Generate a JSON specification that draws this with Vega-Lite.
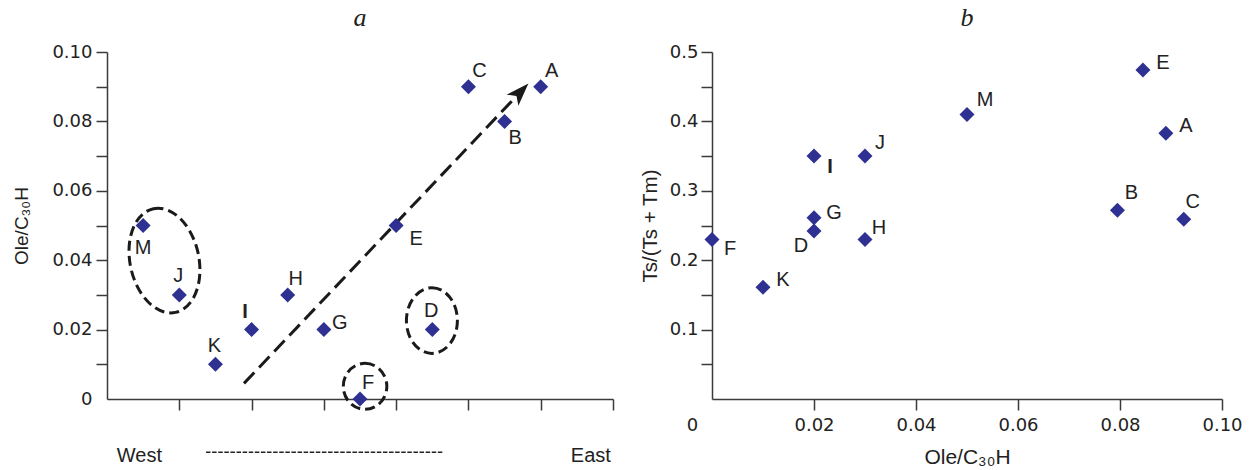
{
  "$schema": "https://vega.github.io/schema/vega-lite/v6.json",
  "padding": {"left": 12, "top": 5, "right": 5, "bottom": 0},
  "bounds": "flush",
  "spacing": 99,
  "config": {
    "view": {"stroke": null},
    "axis": {"domainColor": "#3a3a3a", "tickColor": "#3a3a3a", "domainWidth": 1.5, "tickWidth": 1.5, "tickSize": 11, "labelFont": "DejaVu Sans", "labelFontSize": 18, "labelColor": "#222222", "titleFont": "Liberation Sans", "titleFontWeight": "normal", "titleColor": "#222222", "grid": false, "labelFlush": false, "labelOverlap": false, "labelBound": false},
    "title": {"font": "Liberation Serif", "fontStyle": "italic", "fontWeight": "normal", "fontSize": 26, "color": "#222222", "offset": 12, "anchor": "middle"},
    "text": {"font": "Liberation Sans", "fontSize": 20, "color": "#222222"}
  },
  "datasets": {
    "panelA": [
      {"label": "M", "pos": 1, "ole": 0.05},
      {"label": "J", "pos": 2, "ole": 0.03},
      {"label": "K", "pos": 3, "ole": 0.01},
      {"label": "I", "pos": 4, "ole": 0.02},
      {"label": "H", "pos": 5, "ole": 0.03},
      {"label": "G", "pos": 6, "ole": 0.02},
      {"label": "F", "pos": 7, "ole": 0.0},
      {"label": "E", "pos": 8, "ole": 0.05},
      {"label": "D", "pos": 9, "ole": 0.02},
      {"label": "C", "pos": 10, "ole": 0.09},
      {"label": "B", "pos": 11, "ole": 0.08},
      {"label": "A", "pos": 12, "ole": 0.09}
    ],
    "panelB": [
      {"label": "E", "ole": 0.0845, "ts": 0.474},
      {"label": "M", "ole": 0.05, "ts": 0.41},
      {"label": "A", "ole": 0.089, "ts": 0.383},
      {"label": "I", "ole": 0.02, "ts": 0.35},
      {"label": "J", "ole": 0.03, "ts": 0.35},
      {"label": "B", "ole": 0.0795, "ts": 0.272},
      {"label": "C", "ole": 0.0925, "ts": 0.259},
      {"label": "G", "ole": 0.02, "ts": 0.261},
      {"label": "D", "ole": 0.02, "ts": 0.242},
      {"label": "H", "ole": 0.03, "ts": 0.23},
      {"label": "F", "ole": 0.0, "ts": 0.23},
      {"label": "K", "ole": 0.01, "ts": 0.161}
    ]
  },
  "hconcat": [
    {
      "width": 506,
      "height": 347,
      "title": "a",
      "data": {"name": "panelA"},
      "encoding": {
        "x": {"field": "pos", "type": "quantitative", "scale": {"domain": [0, 14], "nice": false, "zero": false},
              "axis": {"values": [2, 4, 6, 8, 10, 12, 14], "labels": false, "title": null}},
        "y": {"field": "ole", "type": "quantitative", "scale": {"domain": [0, 0.1], "nice": false},
              "axis": {"values": [0, 0.01, 0.02, 0.03, 0.04, 0.05, 0.06, 0.07, 0.08, 0.09, 0.1],
                       "labelExpr": "datum.value == 0 ? '0' : (round(datum.value*100) % 2 == 0 ? format(datum.value, '.2f') : '')",
                       "tickOpacity": {"condition": {"test": "datum.value == 0", "value": 0}, "value": 1},
                       "labelPadding": 4, "title": "Ole/C₃₀H", "titleFontSize": 19, "titlePadding": 20}}
      },
      "layer": [
        {"data": {"values": [{"pos": 1.59, "ole": 0.0399}]},
         "mark": {"type": "point", "shape": "M0,-1A0.65,1,0,1,1,0,1A0.65,1,0,1,1,0,-1Z", "size": 11236, "angle": 348, "filled": false, "stroke": "#1a1a1a", "strokeWidth": 3, "strokeDash": [10, 5], "opacity": 1}},
        {"data": {"values": [{"pos": 8.99, "ole": 0.0226}]},
         "mark": {"type": "point", "shape": "M0,-1A0.777,1,0,1,1,0,1A0.777,1,0,1,1,0,-1Z", "size": 4303, "filled": false, "stroke": "#1a1a1a", "strokeWidth": 3, "strokeDash": [10, 5], "opacity": 1}},
        {"data": {"values": [{"pos": 7.14, "ole": 0.00365}]},
         "mark": {"type": "point", "shape": "M0,-1A0.946,1,0,1,1,0,1A0.946,1,0,1,1,0,-1Z", "size": 2116, "filled": false, "stroke": "#1a1a1a", "strokeWidth": 3, "strokeDash": [10, 5], "opacity": 1}},
        {"data": {"values": [{"pos": 3.79, "ole": 0.0045, "pos2": 11.44, "ole2": 0.0885}]},
         "mark": {"type": "rule", "stroke": "#1a1a1a", "strokeWidth": 3, "strokeDash": [15, 7]},
         "encoding": {"x2": {"field": "pos2"}, "y2": {"field": "ole2"}}},
        {"data": {"values": [{"pos": 11.44, "ole": 0.0885}]},
         "mark": {"type": "point", "shape": "M0,-1L0.7,1L0,0.5L-0.7,1Z", "size": 529, "angle": 43.6, "filled": true, "color": "#1a1a1a", "opacity": 1}},
        {"mark": {"type": "point", "shape": "diamond", "filled": true, "color": "#2E3192", "size": 225, "opacity": 1}},
        {"transform": [{"filter": {"field": "label", "oneOf": ["J", "K", "D"]}}],
         "mark": {"type": "text", "dx": -1, "dy": -18.5}, "encoding": {"text": {"field": "label"}}},
        {"transform": [{"filter": {"field": "label", "oneOf": ["I"]}}],
         "mark": {"type": "text", "dx": -6.6, "dy": -17.7, "fontWeight": "bold"}, "encoding": {"text": {"field": "label"}}},
        {"transform": [{"filter": {"field": "label", "oneOf": ["H", "F"]}}],
         "mark": {"type": "text", "dx": 8, "dy": -16}, "encoding": {"text": {"field": "label"}}},
        {"transform": [{"filter": {"field": "label", "oneOf": ["C", "A"]}}],
         "mark": {"type": "text", "dx": 11, "dy": -15.3}, "encoding": {"text": {"field": "label"}}},
        {"transform": [{"filter": {"field": "label", "oneOf": ["M"]}}],
         "mark": {"type": "text", "dx": 0, "dy": 22.4}, "encoding": {"text": {"field": "label"}}},
        {"transform": [{"filter": {"field": "label", "oneOf": ["E"]}}],
         "mark": {"type": "text", "dx": 20, "dy": 13}, "encoding": {"text": {"field": "label"}}},
        {"transform": [{"filter": {"field": "label", "oneOf": ["B"]}}],
         "mark": {"type": "text", "dx": 10.5, "dy": 16.8}, "encoding": {"text": {"field": "label"}}},
        {"transform": [{"filter": {"field": "label", "oneOf": ["G"]}}],
         "mark": {"type": "text", "dx": 16, "dy": -6.7}, "encoding": {"text": {"field": "label"}}},
        {"data": {"values": [{"pos": 0.27, "ole": -0.01805, "word": "West"}]},
         "mark": {"type": "text", "align": "left", "baseline": "alphabetic", "fontSize": 20}, "encoding": {"text": {"field": "word"}}},
        {"data": {"values": [{"pos": 13.94, "ole": -0.01805, "word": "East"}]},
         "mark": {"type": "text", "align": "right", "baseline": "alphabetic", "fontSize": 20}, "encoding": {"text": {"field": "word"}}},
        {"data": {"values": [{"pos": 2.74, "ole": -0.01535, "pos2": 9.3}]},
         "mark": {"type": "rule", "stroke": "#222222", "strokeWidth": 1.3, "strokeDash": [4.5, 1.6]},
         "encoding": {"x2": {"field": "pos2"}}}
      ]
    },
    {
      "width": 510,
      "height": 347,
      "title": "b",
      "data": {"name": "panelB"},
      "encoding": {
        "x": {"field": "ole", "type": "quantitative", "scale": {"domain": [0, 0.1], "nice": false},
              "axis": {"values": [0, 0.02, 0.04, 0.06, 0.08, 0.1],
                       "labelExpr": "datum.value == 0 ? '0' : format(datum.value, '.2f')",
                       "labelOffset": {"condition": {"test": "datum.value == 0", "value": -20}, "value": 0},
                       "tickOpacity": {"condition": {"test": "datum.value == 0", "value": 0}, "value": 1},
                       "labelPadding": 6, "title": "Ole/C₃₀H", "titleFontSize": 21, "titlePadding": 12}},
        "y": {"field": "ts", "type": "quantitative", "scale": {"domain": [0, 0.5], "nice": false},
              "axis": {"values": [0.05, 0.1, 0.15, 0.2, 0.25, 0.3, 0.35, 0.4, 0.45, 0.5],
                       "labelExpr": "round(datum.value*100) % 10 == 0 ? format(datum.value, '.1f') : ''",
                       "labelPadding": 3, "title": "Ts/(Ts + Tm)", "titleFontSize": 20.5, "titlePadding": 9}}
      },
      "layer": [
        {"mark": {"type": "point", "shape": "diamond", "filled": true, "color": "#2E3192", "size": 225, "opacity": 1}},
        {"transform": [{"filter": {"field": "label", "oneOf": ["E", "A", "K"]}}],
         "mark": {"type": "text", "dx": 20, "dy": -7.4}, "encoding": {"text": {"field": "label"}}},
        {"transform": [{"filter": {"field": "label", "oneOf": ["G"]}}],
         "mark": {"type": "text", "dx": 20, "dy": -4.6}, "encoding": {"text": {"field": "label"}}},
        {"transform": [{"filter": {"field": "label", "oneOf": ["M"]}}],
         "mark": {"type": "text", "dx": 18, "dy": -14.6}, "encoding": {"text": {"field": "label"}}},
        {"transform": [{"filter": {"field": "label", "oneOf": ["J"]}}],
         "mark": {"type": "text", "dx": 15, "dy": -13}, "encoding": {"text": {"field": "label"}}},
        {"transform": [{"filter": {"field": "label", "oneOf": ["H"]}}],
         "mark": {"type": "text", "dx": 14, "dy": -11.2}, "encoding": {"text": {"field": "label"}}},
        {"transform": [{"filter": {"field": "label", "oneOf": ["B"]}}],
         "mark": {"type": "text", "dx": 14, "dy": -17.6}, "encoding": {"text": {"field": "label"}}},
        {"transform": [{"filter": {"field": "label", "oneOf": ["C"]}}],
         "mark": {"type": "text", "dx": 9, "dy": -17.2}, "encoding": {"text": {"field": "label"}}},
        {"transform": [{"filter": {"field": "label", "oneOf": ["I"]}}],
         "mark": {"type": "text", "dx": 16, "dy": 11.1, "fontWeight": "bold"}, "encoding": {"text": {"field": "label"}}},
        {"transform": [{"filter": {"field": "label", "oneOf": ["D"]}}],
         "mark": {"type": "text", "dx": -13, "dy": 14.8}, "encoding": {"text": {"field": "label"}}},
        {"transform": [{"filter": {"field": "label", "oneOf": ["F"]}}],
         "mark": {"type": "text", "dx": 18, "dy": 9.4}, "encoding": {"text": {"field": "label"}}}
      ]
    }
  ]
}
